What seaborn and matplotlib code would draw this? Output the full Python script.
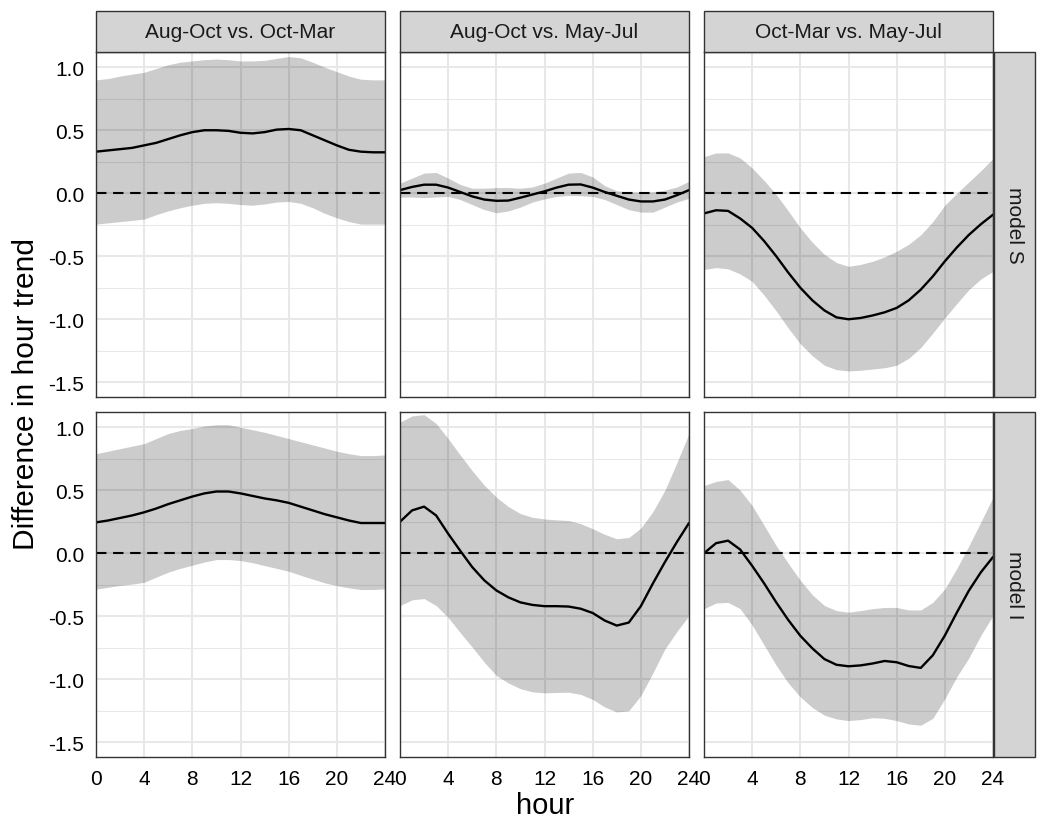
import numpy as np
import pandas as pd
import matplotlib
matplotlib.use("Agg")
import matplotlib.pyplot as plt
from matplotlib.patches import Rectangle
import seaborn as sns

# ---------------- data ----------------
hours = list(range(0, 25))
comparisons = ["Aug-Oct vs. Oct-Mar", "Aug-Oct vs. May-Jul", "Oct-Mar vs. May-Jul"]
models = ["model S", "model I"]

# model S
s1_mean = [0.33, 0.34, 0.35, 0.36, 0.38, 0.40, 0.43, 0.46, 0.485, 0.50, 0.50, 0.495, 0.48, 0.475, 0.485,
           0.505, 0.51, 0.50, 0.46, 0.42, 0.38, 0.345, 0.33, 0.325, 0.325]
s1_upper = [0.90, 0.91, 0.93, 0.945, 0.96, 0.99, 1.02, 1.04, 1.05, 1.06, 1.065, 1.06, 1.05, 1.05, 1.055,
            1.07, 1.085, 1.075, 1.04, 1.00, 0.965, 0.93, 0.905, 0.90, 0.90]
s1_lower = [-0.245, -0.235, -0.225, -0.215, -0.205, -0.17, -0.14, -0.115, -0.095, -0.08, -0.075, -0.08,
            -0.09, -0.095, -0.085, -0.07, -0.065, -0.08, -0.115, -0.16, -0.195, -0.225, -0.245, -0.245, -0.245]

s2_mean = [0.025, 0.05, 0.068, 0.068, 0.045, 0.01, -0.025, -0.05, -0.06, -0.058, -0.035, -0.01, 0.015,
           0.045, 0.068, 0.07, 0.045, 0.01, -0.02, -0.05, -0.065, -0.065, -0.05, -0.015, 0.025]
s2_upper = [0.08, 0.12, 0.16, 0.165, 0.12, 0.07, 0.04, 0.04, 0.045, 0.045, 0.04, 0.05, 0.08, 0.12, 0.16,
            0.165, 0.13, 0.06, 0.02, 0.01, 0.008, 0.01, 0.025, 0.05, 0.095]
s2_lower = [-0.03, -0.03, -0.035, -0.03, -0.025, -0.05, -0.09, -0.13, -0.155, -0.14, -0.11, -0.07, -0.045,
            -0.025, -0.018, -0.02, -0.025, -0.05, -0.09, -0.13, -0.15, -0.15, -0.11, -0.07, -0.04]

s3_mean = [-0.16, -0.135, -0.14, -0.2, -0.275, -0.38, -0.5, -0.63, -0.75, -0.85, -0.93, -0.985, -1.0,
           -0.99, -0.97, -0.945, -0.91, -0.85, -0.765, -0.66, -0.54, -0.43, -0.33, -0.245, -0.17]
s3_upper = [0.29, 0.32, 0.32, 0.28, 0.2, 0.1, -0.01, -0.14, -0.275, -0.39, -0.485, -0.55, -0.58, -0.565,
            -0.54, -0.505, -0.46, -0.405, -0.33, -0.225, -0.095, 0.0, 0.09, 0.18, 0.275]
s3_lower = [-0.605, -0.59, -0.6, -0.64, -0.7, -0.81, -0.935, -1.07, -1.195, -1.29, -1.365, -1.4, -1.41,
            -1.405, -1.395, -1.385, -1.365, -1.31, -1.225, -1.11, -0.99, -0.875, -0.765, -0.68, -0.62]

# model I
i1_mean = [0.245, 0.26, 0.28, 0.30, 0.325, 0.355, 0.39, 0.42, 0.45, 0.475, 0.49, 0.49, 0.475, 0.455,
           0.435, 0.42, 0.40, 0.37, 0.34, 0.31, 0.285, 0.26, 0.24, 0.24, 0.24]
i1_upper = [0.79, 0.81, 0.83, 0.85, 0.87, 0.91, 0.95, 0.975, 0.99, 1.01, 1.02, 1.02, 1.0, 0.98, 0.96,
            0.935, 0.91, 0.885, 0.86, 0.835, 0.81, 0.79, 0.775, 0.775, 0.78]
i1_lower = [-0.285, -0.27, -0.255, -0.245, -0.23, -0.19, -0.15, -0.12, -0.095, -0.07, -0.05, -0.05,
            -0.058, -0.075, -0.098, -0.12, -0.143, -0.175, -0.205, -0.235, -0.257, -0.275, -0.288, -0.288, -0.283]

i2_mean = [0.25, 0.34, 0.37, 0.30, 0.155, 0.02, -0.11, -0.215, -0.295, -0.35, -0.39, -0.41, -0.42, -0.42,
           -0.423, -0.44, -0.474, -0.534, -0.574, -0.55, -0.42, -0.24, -0.07, 0.09, 0.24]
i2_upper = [1.04, 1.09, 1.10, 1.03, 0.91, 0.78, 0.655, 0.54, 0.445, 0.37, 0.315, 0.285, 0.272, 0.265,
            0.26, 0.235, 0.195, 0.15, 0.115, 0.125, 0.2, 0.33, 0.5, 0.72, 0.95]
i2_lower = [-0.415, -0.37, -0.36, -0.415, -0.51, -0.63, -0.745, -0.865, -0.97, -1.03, -1.075, -1.1, -1.108,
            -1.105, -1.103, -1.12, -1.16, -1.22, -1.26, -1.25, -1.13, -0.95, -0.76, -0.62, -0.495]

i3_mean = [0.0, 0.08, 0.1, 0.03, -0.1, -0.24, -0.39, -0.53, -0.655, -0.755, -0.84, -0.885, -0.897, -0.89,
           -0.875, -0.855, -0.865, -0.895, -0.91, -0.81, -0.653, -0.47, -0.296, -0.15, -0.03]
i3_upper = [0.537, 0.57, 0.585, 0.5, 0.378, 0.22, 0.06, -0.08, -0.215, -0.33, -0.415, -0.455, -0.468,
            -0.455, -0.44, -0.43, -0.43, -0.45, -0.45, -0.39, -0.283, -0.12, 0.06, 0.25, 0.444]
i3_lower = [-0.44, -0.395, -0.39, -0.44, -0.57, -0.73, -0.89, -1.03, -1.14, -1.225, -1.285, -1.315, -1.328,
            -1.32, -1.305, -1.31, -1.328, -1.355, -1.365, -1.31, -1.155, -0.98, -0.83, -0.65, -0.495]

x_ticks = [0, 4, 8, 12, 16, 20, 24]
y_ticks = [-1.5, -1.0, -0.5, 0.0, 0.5, 1.0]
y_minor = [-1.25, -0.75, -0.25, 0.25, 0.75]

series = {
    ("model S", comparisons[0]): (s1_mean, s1_lower, s1_upper),
    ("model S", comparisons[1]): (s2_mean, s2_lower, s2_upper),
    ("model S", comparisons[2]): (s3_mean, s3_lower, s3_upper),
    ("model I", comparisons[0]): (i1_mean, i1_lower, i1_upper),
    ("model I", comparisons[1]): (i2_mean, i2_lower, i2_upper),
    ("model I", comparisons[2]): (i3_mean, i3_lower, i3_upper),
}
rows = []
for (m, c), (mn, lo, up) in series.items():
    for h, a, b, u in zip(hours, mn, lo, up):
        rows.append({"model": m, "comparison": c, "hour": h, "mean": a, "lower": b, "upper": u})
df = pd.DataFrame(rows)

# ---------------- style ----------------
sns.set_theme(style="white")
plt.rcParams["font.family"] = ["Liberation Sans", "DejaVu Sans"]

W, H = 1041, 820
fig = plt.figure(figsize=(W / 100, H / 100), dpi=100)
fig.patch.set_facecolor("white")

col_x = [96, 400, 704]
row_y = [53, 413]
pw, ph = 289, 345
ylim = (-1.617, 1.121)
border = "#333333"
grid = "#E8E8E8"

def rect(px, py, w, h):
    return [px / W, 1 - (py + h) / H, w / W, h / H]

for ri, m in enumerate(models):
    for ci, c in enumerate(comparisons):
        ax = fig.add_axes(rect(col_x[ci], row_y[ri], pw, ph))
        sub = df[(df["model"] == m) & (df["comparison"] == c)]
        ax.set_xlim(0, 24)
        ax.set_ylim(*ylim)
        # grid
        for yv in y_minor:
            ax.axhline(yv, color=grid, lw=0.75, zorder=0)
        for yv in y_ticks:
            ax.axhline(yv, color=grid, lw=1.5, zorder=0)
        for xv in x_ticks:
            ax.axvline(xv, color=grid, lw=1.5, zorder=0)
        ax.fill_between(sub["hour"], sub["lower"], sub["upper"], color="black", alpha=0.2,
                        linewidth=0, zorder=1)
        ax.axhline(0, color="black", lw=1.5, ls=(0, (5, 3.2)), zorder=2)
        sns.lineplot(data=sub, x="hour", y="mean", ax=ax, color="black", lw=1.7, zorder=3)
        ax.set_xlabel("")
        ax.set_ylabel("")
        ax.set_xticks(x_ticks)
        ax.set_yticks(y_ticks)
        for sp in ax.spines.values():
            sp.set_color(border)
            sp.set_linewidth(1.0)
            sp.set_zorder(5)
        ax.tick_params(axis="both", which="both", length=5, width=0.9, color=border,
                       labelsize=15, labelcolor="black", pad=3.5)
        if ci == 0:
            ax.set_yticklabels([f"{v:.1f}" for v in y_ticks])
        else:
            ax.tick_params(axis="y", length=0, labelleft=False)
        if ri == 1:
            ax.set_xticklabels([str(v) for v in x_ticks])
        else:
            ax.tick_params(axis="x", length=0, labelbottom=False)

# top strips
for ci, c in enumerate(comparisons):
    fig.patches.append(Rectangle((col_x[ci] / W, 1 - 53 / H), pw / W, 41 / H,
                                 transform=fig.transFigure, facecolor="#D4D4D4",
                                 edgecolor=border, linewidth=1.0, zorder=0))
    fig.text((col_x[ci] + pw / 2) / W, 1 - 32.5 / H, c, ha="center", va="center",
             fontsize=15, color="#1A1A1A")

# right strips
for ri, m in enumerate(models):
    fig.patches.append(Rectangle((994 / W, 1 - (row_y[ri] + ph) / H), 41 / W, ph / H,
                                 transform=fig.transFigure, facecolor="#D4D4D4",
                                 edgecolor=border, linewidth=1.0, zorder=0))
    fig.text(1014.5 / W, 1 - (row_y[ri] + ph / 2) / H, m, ha="center", va="center",
             rotation=-90, fontsize=15, color="#1A1A1A")

fig.text(545.5 / W, 1 - 814 / H, "hour", ha="center", va="baseline", fontsize=21, color="black")
fig.text(26 / W, 1 - 394 / H, "Difference in hour trend", ha="center", va="center",
         rotation=90, fontsize=21.5, color="black")

fig.savefig("out.png", dpi=100, facecolor="white")
